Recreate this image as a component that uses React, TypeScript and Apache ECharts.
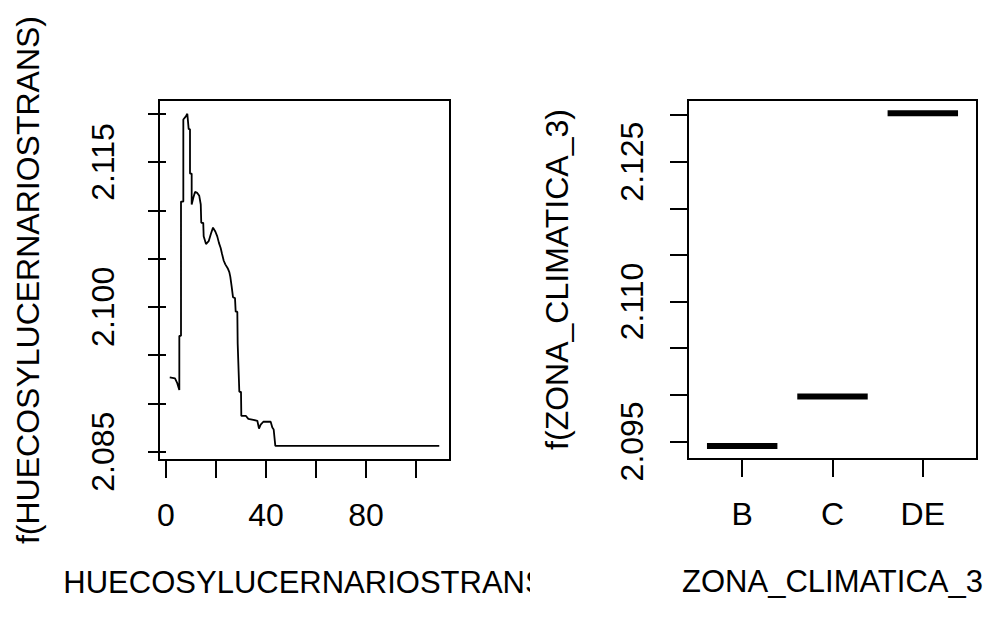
import React, { useEffect, useRef } from "react";
import * as echarts from "echarts";

// Left panel: smooth term of HUECOSYLUCERNARIOSTRANS
const hueX = [
  1.5, 3.6, 4.5, 5.33, 5.33, 6.0, 6.0, 6.93, 6.93, 7.87, 8.53, 9.07, 9.6, 9.6, 10.27, 10.27,
  10.93, 11.6, 12.5, 13.3, 13.9, 14.1, 14.9, 15.07, 16.0, 17.07, 18.0, 18.8, 19.73, 20.5,
  21.2, 21.87, 22.4, 23.07, 23.73, 24.67, 25.33, 25.73, 26.27, 26.8, 27.6, 27.87, 28.53,
  28.67, 29.33, 30.0, 30.13, 32.0, 32.93, 34.93, 36.53, 37.2, 37.87, 38.93, 41.87, 42.53,
  43.07, 43.73, 109.3,
];
const hueY = [
  2.0927, 2.0926, 2.0921, 2.0914, 2.097, 2.097, 2.1109, 2.1109, 2.1194, 2.1197, 2.12, 2.1184,
  2.1184, 2.1138, 2.1138, 2.1106, 2.1113, 2.1119, 2.1118, 2.1115, 2.1106, 2.1087, 2.1087,
  2.1073, 2.1065, 2.1068, 2.1076, 2.1082, 2.1078, 2.1073, 2.1066, 2.1061, 2.1055, 2.1048,
  2.1044, 2.104, 2.1036, 2.1031, 2.1021, 2.101, 2.1009, 2.0995, 2.0995, 2.0962, 2.0912,
  2.0912, 2.0887, 2.0887, 2.0884, 2.0883, 2.0882, 2.0874, 2.0878, 2.0881, 2.0881, 2.0875,
  2.0873, 2.0856, 2.0856,
];
const leftXTicks = [0, 20, 40, 60, 80, 100];
const leftXLabels = [0, 40, 80];
const leftYTicks = [2.085, 2.09, 2.095, 2.1, 2.105, 2.11, 2.115, 2.12];
const leftYLabels = [2.085, 2.1, 2.115];

// Right panel: factor term ZONA_CLIMATICA_3
const zonaCategories = ["B", "C", "DE"];
const zonaValues = [2.0945, 2.0998, 2.1302];
const rightXTicks = [1, 2, 3];
const rightYTicks = [2.095, 2.1, 2.105, 2.11, 2.115, 2.12, 2.125, 2.13];
const rightYLabels = [2.095, 2.11, 2.125];

const FONT = "'Liberation Sans', Arial, sans-serif";

export default function App() {
  const ref = useRef<HTMLDivElement>(null);
  useEffect(() => {
    document.body.style.margin = "0";
    const chart = echarts.init(ref.current!, null, { renderer: "svg" });
    const txt = { color: "#000", fontFamily: FONT, fontSize: 32 };
    const xTitle = { color: "#000", fontFamily: FONT, fontSize: 31 };
    const tick = { show: true, inside: false, length: 18, lineStyle: { color: "#000", width: 2 } };
    const lineData = hueX.map((x, i) => [x, hueY[i]]);
    const segData = zonaValues.map((v, i) => [rightXTicks[i], v]);
    chart.setOption({
      animation: false,
      backgroundColor: "#fff",
      grid: [
        { left: 159, top: 100, width: 291, height: 360, show: true, borderColor: "#000", borderWidth: 2, backgroundColor: "transparent" },
        { left: 688, top: 100, width: 289, height: 359, show: true, borderColor: "#000", borderWidth: 2, backgroundColor: "transparent" },
      ],
      xAxis: [
        {
          type: "value", gridIndex: 0, min: -2.8, max: 113.6,
          axisLine: { show: false }, splitLine: { show: false },
          axisTick: { ...tick, customValues: leftXTicks },
          axisLabel: { ...txt, margin: 39, customValues: leftXLabels, formatter: (v: number) => String(Math.round(v)) },
          name: "HUECOSYLUCERNARIOSTRANS", nameLocation: "middle", nameGap: 107, nameTextStyle: { ...xTitle },
        },
        {
          type: "value", gridIndex: 1, min: 0.4, max: 3.6,
          axisLine: { show: false }, splitLine: { show: false },
          axisTick: { ...tick, customValues: rightXTicks },
          axisLabel: { ...txt, margin: 39, customValues: rightXTicks, formatter: (v: number) => zonaCategories[Math.round(v) - 1] },
          name: "ZONA_CLIMATICA_3", nameLocation: "middle", nameGap: 107, nameTextStyle: { ...xTitle },
        },
      ],
      yAxis: [
        {
          type: "value", gridIndex: 0, min: 2.08414, max: 2.12142,
          axisLine: { show: false }, splitLine: { show: false },
          axisTick: { ...tick, customValues: leftYTicks },
          axisLabel: { ...txt, margin: 40, rotate: 90, customValues: leftYLabels, formatter: (v: number) => v.toFixed(3) },
          name: "f(HUECOSYLUCERNARIOSTRANS)", nameLocation: "middle", nameGap: 115, nameTextStyle: { ...txt },
        },
        {
          type: "value", gridIndex: 1, min: 2.09311, max: 2.13161,
          axisLine: { show: false }, splitLine: { show: false },
          axisTick: { ...tick, customValues: rightYTicks },
          axisLabel: { ...txt, margin: 40, rotate: 90, customValues: rightYLabels, formatter: (v: number) => v.toFixed(3) },
          name: "f(ZONA_CLIMATICA_3)", nameLocation: "middle", nameGap: 115, nameTextStyle: { ...txt },
        },
      ],
      series: [
        {
          type: "line", xAxisIndex: 0, yAxisIndex: 0, data: lineData, showSymbol: false, symbol: "none",
          lineStyle: { color: "#000", width: 1.8 }, silent: true,
        },
        {
          type: "custom", xAxisIndex: 1, yAxisIndex: 1, data: segData, silent: true,
          renderItem: (_p: any, api: any) => {
            const i = api.value(0);
            const v = api.value(1);
            const a = api.coord([i - 0.39, v]);
            const b = api.coord([i + 0.39, v]);
            return { type: "line", shape: { x1: a[0], y1: a[1], x2: b[0], y2: b[1] }, style: { stroke: "#000", lineWidth: 6 } };
          },
        },
      ],
      graphic: [
        { type: "rect", z: 100, shape: { x: 530, y: 555, width: 120, height: 62 }, style: { fill: "#fff" }, silent: true },
      ],
    });
    return () => chart.dispose();
  }, []);
  return <div ref={ref} style={{ width: 988, height: 617 }} />;
}
